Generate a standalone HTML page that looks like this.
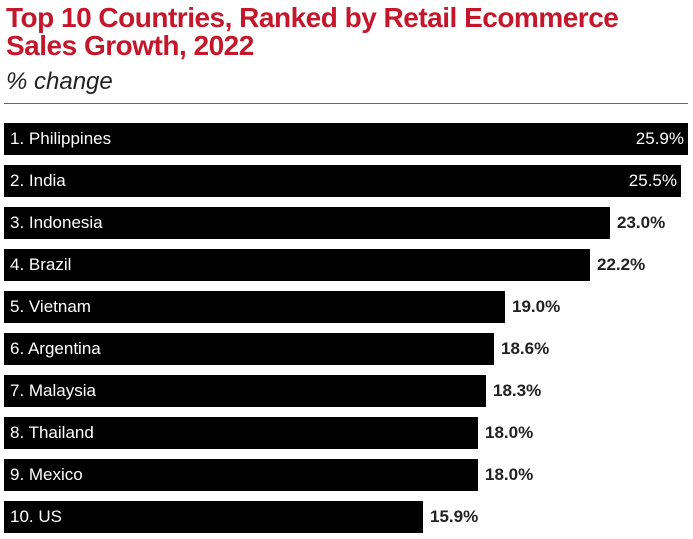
<!DOCTYPE html>
<html><head><style>
body{margin:0;width:693px;height:539px;background:#fff;font-family:"Liberation Sans",sans-serif;position:relative;overflow:hidden}
.t{position:absolute;left:6px;color:#c4172c;font-weight:bold;font-size:28px;letter-spacing:-0.5px;line-height:28px}
.s{position:absolute;left:6px;top:68px;font-size:24px;font-style:italic;color:#222}
.r{position:absolute;left:4px;top:103px;width:684px;height:1px;background:#666}
.b{position:absolute;left:4px;height:32px;background:#000;color:#fff;font-size:17px;line-height:32px}
.b span{position:absolute;left:6px}
.b i{position:absolute;right:4px;font-style:normal}
.v{position:absolute;font-size:17px;font-weight:bold;line-height:32px;color:#222}
</style></head><body>
<div class="t" style="top:4px">Top 10 Countries, Ranked by Retail Ecommerce</div>
<div class="t" style="top:32px">Sales Growth, 2022</div>
<div class="s">% change</div>
<div class="r"></div>
<div class="b" style="top:123px;width:684px"><span>1. Philippines</span><i>25.9%</i></div>
<div class="b" style="top:165px;width:677px"><span>2. India</span><i>25.5%</i></div>
<div class="b" style="top:207px;width:606px"><span>3. Indonesia</span></div><div class="v" style="top:207px;left:617px">23.0%</div>
<div class="b" style="top:249px;width:586px"><span>4. Brazil</span></div><div class="v" style="top:249px;left:597px">22.2%</div>
<div class="b" style="top:291px;width:501px"><span>5. Vietnam</span></div><div class="v" style="top:291px;left:512px">19.0%</div>
<div class="b" style="top:333px;width:490px"><span>6. Argentina</span></div><div class="v" style="top:333px;left:501px">18.6%</div>
<div class="b" style="top:375px;width:482px"><span>7. Malaysia</span></div><div class="v" style="top:375px;left:493px">18.3%</div>
<div class="b" style="top:417px;width:474px"><span>8. Thailand</span></div><div class="v" style="top:417px;left:485px">18.0%</div>
<div class="b" style="top:459px;width:474px"><span>9. Mexico</span></div><div class="v" style="top:459px;left:485px">18.0%</div>
<div class="b" style="top:501px;width:419px"><span>10. US</span></div><div class="v" style="top:501px;left:430px">15.9%</div>
</body></html>
